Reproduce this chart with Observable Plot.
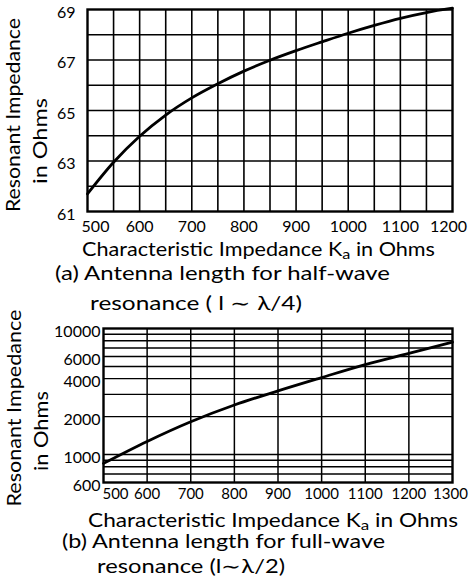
<!DOCTYPE html>
<html>
<head>
<meta charset="utf-8">
<script src="https://cdn.jsdelivr.net/npm/d3@7"></script>
<script src="https://cdn.jsdelivr.net/npm/@observablehq/plot@0.6"></script>
<style>
  html, body { margin: 0; padding: 0; background: #fff; }
  #wrap { position: relative; width: 470px; height: 583px; background: #fff; overflow: hidden; }
  #wrap > svg { position: absolute; left: 0; }
  #overlay { top: 0; pointer-events: none; }
  #overlay text { font-family: Lato, "Open Sans", sans-serif; font-weight: 400; fill: #000; }
</style>
</head>
<body>
<div id="wrap"></div>
<script>
// ---- Data: (a) half-wave resonance ----
const kaA = [500, 550, 600, 650, 700, 750, 800, 850, 900, 950, 1000, 1050, 1100, 1150, 1200];
const zA  = [61.7, 62.95, 63.98, 64.82, 65.5, 66.06, 66.56, 66.99, 67.37, 67.72, 68.06, 68.37, 68.65, 68.88, 69.05];
const xTicksA = [500, 600, 700, 800, 900, 1000, 1100, 1200];
const yTicksA = [61, 63, 65, 67, 69];
const xGridA = [550, 600, 650, 700, 750, 800, 850, 900, 950, 1000, 1050, 1100, 1150];
const yGridA = [62, 63, 64, 65, 66, 67, 68];

// ---- Data: (b) full-wave resonance ----
const kaB = [500, 600, 700, 800, 900, 1000, 1100, 1200, 1300];
const zB  = [850, 1270, 1820, 2470, 3200, 4080, 5170, 6350, 7800];
const xTicksB = [500, 600, 700, 800, 900, 1000, 1100, 1200, 1300];
const yTicksB = [600, 1000, 2000, 4000, 6000, 10000];
const xGridB = [600, 700, 800, 900, 1000, 1100, 1200];
const yGridB = [700, 800, 900, 1000, 2000, 3000, 4000, 5000, 6000, 7000, 8000, 9000];

const rowsA = kaA.map((k, i) => ({ka: k, z: zA[i]}));
const rowsB = kaB.map((k, i) => ({ka: k, z: zB[i]}));

const fmt = d => String(d);
const FONT = "Lato, 'Open Sans', sans-serif";
const baseStyle = {fontFamily: FONT, fontSize: "16px", fontWeight: 400, color: "#000", background: "transparent", overflow: "visible"};

const plotA = Plot.plot({
  width: 470, height: 262,
  marginLeft: 87, marginRight: 18, marginTop: 9, marginBottom: 51,
  style: baseStyle,
  x: {domain: [500, 1200], label: null, axis: null},
  y: {domain: [61, 69], label: null, axis: null},
  marks: [
    Plot.gridX(xGridA, {stroke: "#000", strokeOpacity: 1, strokeWidth: 1.6}),
    Plot.gridY(yGridA, {stroke: "#000", strokeOpacity: 1, strokeWidth: 1.6}),
    Plot.frame({stroke: "#000", strokeWidth: 2.4}),
    Plot.line(rowsA, {x: "ka", y: "z", curve: "monotone-x", stroke: "#000", strokeWidth: 2.8}),
    Plot.axisX([xTicksA[0]], {tickSize: 0, tickPadding: 9, fontSize: 16, dx: 8, tickFormat: fmt}),
    Plot.axisX(xTicksA.slice(1, -1), {tickSize: 0, tickPadding: 9, fontSize: 16, tickFormat: fmt}),
    Plot.axisX([xTicksA[xTicksA.length - 1]], {tickSize: 0, tickPadding: 9, fontSize: 16, dx: -4, tickFormat: fmt}),
    Plot.axisY(yTicksA, {tickSize: 0, tickPadding: 12, fontSize: 16, dy: 3, tickFormat: fmt})
  ]
});
plotA.style.top = "0px";

const plotB = Plot.plot({
  width: 470, height: 230,
  marginLeft: 103, marginRight: 18, marginTop: 18, marginBottom: 58,
  style: baseStyle,
  x: {domain: [500, 1300], label: null, axis: null},
  y: {type: "log", domain: [600, 10000], label: null, axis: null},
  marks: [
    Plot.gridX(xGridB, {stroke: "#000", strokeOpacity: 1, strokeWidth: 1.5}),
    Plot.gridY(yGridB, {stroke: "#000", strokeOpacity: 1, strokeWidth: 1.4}),
    Plot.frame({stroke: "#000", strokeWidth: 2.4}),
    Plot.line(rowsB, {x: "ka", y: "z", curve: "monotone-x", stroke: "#000", strokeWidth: 2.8}),
    Plot.axisX([xTicksB[0]], {tickSize: 0, tickPadding: 6, fontSize: 15, dx: 12, tickFormat: fmt}),
    Plot.axisX(xTicksB.slice(1, -1), {tickSize: 0, tickPadding: 6, fontSize: 15, tickFormat: fmt}),
    Plot.axisX([xTicksB[xTicksB.length - 1]], {tickSize: 0, tickPadding: 6, fontSize: 15, dx: -2, tickFormat: fmt}),
    Plot.text(yTicksB, {y: d => d, text: fmt, frameAnchor: "left", textAnchor: "end", dx: -3, dy: 3, fontSize: 16, fill: "#000"})
  ]
});
plotB.style.top = "310px";

const wrap = document.getElementById("wrap");
wrap.appendChild(plotA);
wrap.appendChild(plotB);

// ---- Titles and captions ----
const NS = "http://www.w3.org/2000/svg";
const overlay = document.createElementNS(NS, "svg");
overlay.setAttribute("id", "overlay");
overlay.setAttribute("width", 470);
overlay.setAttribute("height", 583);
wrap.appendChild(overlay);

function addText(parts, x, y, len, size, rotate) {
  const t = document.createElementNS(NS, "text");
  t.setAttribute("x", x);
  t.setAttribute("y", y);
  t.setAttribute("font-size", size);
  if (rotate) {
    t.setAttribute("transform", `rotate(-90 ${x} ${y})`);
    t.setAttribute("text-anchor", "middle");
  }
  for (const p of parts) {
    const s = document.createElementNS(NS, "tspan");
    if (p.sub) { s.setAttribute("dy", 3); s.setAttribute("font-size", size * 0.75); }
    if (p.after) { s.setAttribute("dy", -3); }
    s.textContent = p.t;
    t.appendChild(s);
  }
  t.setAttribute("textLength", len);
  t.setAttribute("lengthAdjust", "spacingAndGlyphs");
  overlay.appendChild(t);
}

const xTitle = [{t: "Characteristic Impedance K"}, {t: "a", sub: true}, {t: " in Ohms", after: true}];
// (a)
addText([{t: "Resonant Impedance"}], 20, 115, 194, 20, true);
addText([{t: "in Ohms"}], 47, 141, 86, 20, true);
addText(xTitle, 82, 256, 353, 19);
addText([{t: "(a) Antenna length for half-wave"}], 55, 280, 335, 19);
addText([{t: "resonance ( l ∼ λ/4)"}], 90, 310, 212, 19);
// (b)
addText([{t: "Resonant Impedance"}], 21, 408, 197, 20, true);
addText([{t: "in Ohms"}], 48, 431, 80, 20, true);
addText(xTitle, 88, 527, 370, 19);
addText([{t: "(b) Antenna length for full-wave"}], 62, 548, 323, 19);
addText([{t: "resonance (l∼λ/2)"}], 97, 573, 188, 19);
</script>
</body>
</html>
